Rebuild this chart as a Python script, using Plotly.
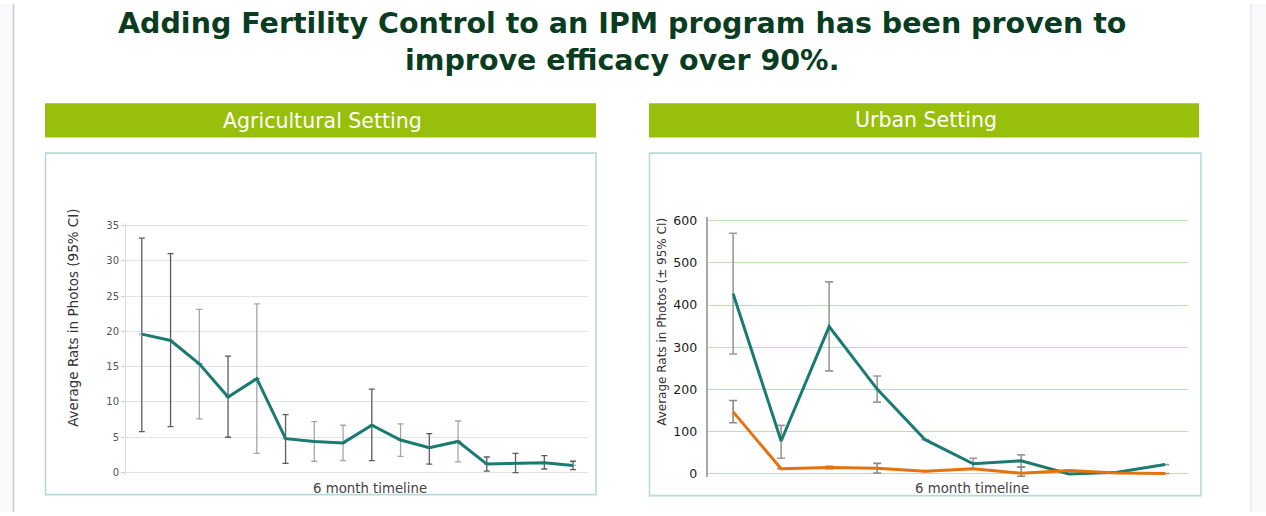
import plotly.graph_objects as go

W, H = 1266, 516

# ---------------- data ----------------
ag_x = list(range(1, 17))
ag_mean = [19.6, 18.7, 15.4, 10.7, 13.3, 4.8, 4.4, 4.2, 6.7, 4.6, 3.5, 4.4, 1.2, 1.3, 1.4, 1.0]
ag_upper = [33.2, 31.0, 23.1, 16.5, 23.9, 8.2, 7.2, 6.7, 11.8, 6.9, 5.5, 7.3, 2.2, 2.7, 2.4, 1.6]
ag_lower = [5.8, 6.5, 7.6, 5.0, 2.7, 1.3, 1.6, 1.7, 1.7, 2.3, 1.2, 1.5, 0.2, 0.0, 0.5, 0.4]
ag_dark_bar = [1, 1, 0, 1, 0, 1, 0, 0, 1, 0, 1, 0, 1, 1, 1, 1]
ag_yticks = [0, 5, 10, 15, 20, 25, 30, 35]

ur_x = list(range(1, 11))
ur_teal = [427, 78, 349, 201, 81, 24, 31, 0, 4, 22]
ur_teal_upper = [570, 115, 455, 232, None, 37, 45, None, None, None]
ur_teal_lower = [284, 37, 244, 170, None, 12, 16, None, None, None]
ur_orange = [147, 12, 15, 13.5, 6, 12, 1.5, 8, 2, 1]
ur_orange_upper = [174, None, 18, 25, None, None, 16, None, None, None]
ur_orange_lower = [121, None, 12, 2, None, None, -6, None, None, None]
ur_yticks = [0, 100, 200, 300, 400, 500, 600]

TEAL = "#1b7b72"
ORANGE = "#e2730f"
GREEN_HDR = "#97bf0b"
TITLE_C = "#0a3d1f"

# vertical mapping correction observed in rendering
Y_OFF, Y_SC = 5.6, 0.98


def px(x):
    return x / W


def py(y):
    return 1 - ((y - Y_OFF) / Y_SC) / H


def err(mean, up, lo):
    plus = [(u - m) if u is not None else 0 for m, u in zip(mean, up)]
    minus = [(m - l) if l is not None else 0 for m, l in zip(mean, lo)]
    return plus, minus


fig = go.Figure()

# ----- agricultural -----
ag_plus, ag_minus = err(ag_mean, ag_upper, ag_lower)
for flag, col in [(1, "#5c5c5c"), (0, "#a6a6a6")]:
    fig.add_trace(go.Scatter(
        x=ag_x, y=ag_mean, mode="markers", xaxis="x", yaxis="y",
        marker=dict(size=1, color="rgba(0,0,0,0)"),
        error_y=dict(type="data", symmetric=False,
                     array=[p if d == flag else 0 for p, d in zip(ag_plus, ag_dark_bar)],
                     arrayminus=[m if d == flag else 0 for m, d in zip(ag_minus, ag_dark_bar)],
                     color=col, thickness=1.3, width=3),
        showlegend=False, hoverinfo="skip"))
fig.add_trace(go.Scatter(x=ag_x, y=ag_mean, mode="lines", xaxis="x", yaxis="y",
                         line=dict(color=TEAL, width=3), showlegend=False))

# ----- urban -----
t_plus, t_minus = err(ur_teal, ur_teal_upper, ur_teal_lower)
o_plus, o_minus = err(ur_orange, ur_orange_upper, ur_orange_lower)
fig.add_trace(go.Scatter(
    x=ur_x, y=ur_teal, mode="markers", xaxis="x2", yaxis="y2",
    marker=dict(size=1, color="rgba(0,0,0,0)"),
    error_y=dict(type="data", symmetric=False, array=t_plus, arrayminus=t_minus,
                 color="#9a9a9a", thickness=1.6, width=4),
    showlegend=False, hoverinfo="skip"))
fig.add_trace(go.Scatter(
    x=ur_x, y=ur_orange, mode="markers", xaxis="x2", yaxis="y2",
    marker=dict(size=1, color="rgba(0,0,0,0)"),
    error_y=dict(type="data", symmetric=False, array=o_plus, arrayminus=o_minus,
                 color="#8a8a8a", thickness=1.6, width=4),
    showlegend=False, hoverinfo="skip"))
fig.add_trace(go.Scatter(x=ur_x, y=ur_teal, mode="lines", xaxis="x2", yaxis="y2",
                         line=dict(color=TEAL, width=3), showlegend=False))
fig.add_trace(go.Scatter(x=ur_x, y=ur_orange, mode="lines", xaxis="x2", yaxis="y2",
                         line=dict(color=ORANGE, width=3), showlegend=False))

# ---------------- axes ----------------
fig.update_layout(
    xaxis=dict(domain=[px(126), px(588)], range=[0.45, 16.52], showticklabels=False,
               showgrid=False, zeroline=False, showline=False, ticks="", anchor="y"),
    yaxis=dict(domain=[py(474.8), py(223.2)], range=[-0.4, 35.4], tickvals=ag_yticks,
               anchor="x",
               showgrid=True, gridcolor="#e3e3e3", gridwidth=1.2, zeroline=False,
               showline=True, linecolor="#dcdcdc", linewidth=1, ticks="outside",
               ticklen=4, tickcolor="#cfcfcf",
               tickfont=dict(family="DejaVu Sans", size=10, color="#555555")),
    xaxis2=dict(domain=[px(707.7), px(1187.7)], range=[0.47, 10.47], showticklabels=False,
                showgrid=False, zeroline=False, showline=False, ticks="", anchor="y2"),
    yaxis2=dict(domain=[py(476.7), py(217.9)], range=[-8, 608], tickvals=ur_yticks,
                anchor="x2",
                showgrid=True, gridcolor="#b9dfb2", gridwidth=1.3, zeroline=False,
                showline=True, linecolor="#a8a8a8", linewidth=2, ticks="",
                ticklabelstandoff=6,
                tickfont=dict(family="DejaVu Sans", size=12.5, color="#1a1a1a")),
)

shapes = []
# page side strips
shapes.append(dict(type="rect", xref="paper", yref="paper", x0=0, x1=px(13.5), y0=0, y1=1,
                   fillcolor="#f8f9fb", line=dict(width=0), layer="below"))
shapes.append(dict(type="line", xref="paper", yref="paper", x0=px(13.5), x1=px(13.5), y0=0, y1=1,
                   line=dict(color="#c9c9c9", width=1.5)))
shapes.append(dict(type="rect", xref="paper", yref="paper", x0=px(1251), x1=1, y0=0, y1=1,
                   fillcolor="#f8f9fb", line=dict(width=0), layer="below"))
shapes.append(dict(type="line", xref="paper", yref="paper", x0=px(1251), x1=px(1251), y0=0, y1=1,
                   line=dict(color="#e6e6e6", width=1.5)))
# header bars
for x0, x1 in [(45, 596), (649, 1199)]:
    shapes.append(dict(type="rect", xref="paper", yref="paper", x0=px(x0), x1=px(x1),
                       y0=py(138.5), y1=py(104.5), fillcolor=GREEN_HDR, line=dict(width=0)))
# card borders
for x0, x1, y1 in [(45.5, 596, 494), (649.5, 1201, 495)]:
    shapes.append(dict(type="rect", xref="paper", yref="paper", x0=px(x0), x1=px(x1),
                       y0=py(y1), y1=py(154), line=dict(color="#b7dada", width=1.6),
                       fillcolor="rgba(0,0,0,0)", layer="below"))

annotations = [
    dict(text="<b>Adding Fertility Control to an IPM program has been proven to</b>",
         x=px(622), y=py(25), xref="paper", yref="paper", showarrow=False,
         font=dict(family="DejaVu Sans", size=28.5, color=TITLE_C), xanchor="center", yanchor="middle"),
    dict(text="<b>improve efficacy over 90%.</b>",
         x=px(622), y=py(62), xref="paper", yref="paper", showarrow=False,
         font=dict(family="DejaVu Sans", size=28.5, color=TITLE_C), xanchor="center", yanchor="middle"),
    dict(text="Agricultural Setting", x=px(322), y=py(122), xref="paper", yref="paper",
         showarrow=False, font=dict(family="DejaVu Sans", size=20.5, color="white"),
         xanchor="center", yanchor="middle"),
    dict(text="Urban Setting", x=px(926), y=py(121), xref="paper", yref="paper",
         showarrow=False, font=dict(family="DejaVu Sans", size=20.5, color="white"),
         xanchor="center", yanchor="middle"),
    dict(text="Average Rats in Photos (95% CI)", x=px(73), y=py(318), xref="paper", yref="paper",
         showarrow=False, textangle=-90, font=dict(family="DejaVu Sans", size=13.5, color="#333333"),
         xanchor="center", yanchor="middle"),
    dict(text="Average Rats in Photos (± 95% CI)", x=px(662), y=py(322), xref="paper", yref="paper",
         showarrow=False, textangle=-90, font=dict(family="DejaVu Sans", size=12, color="#333333"),
         xanchor="center", yanchor="middle"),
    dict(text="6 month timeline", x=px(369.5), y=py(487.5), xref="paper", yref="paper",
         showarrow=False, font=dict(family="DejaVu Sans", size=13.3, color="#444444"),
         xanchor="center", yanchor="middle"),
    dict(text="6 month timeline", x=px(972), y=py(488), xref="paper", yref="paper",
         showarrow=False, font=dict(family="DejaVu Sans", size=13.3, color="#444444"),
         xanchor="center", yanchor="middle"),
]

fig.update_layout(
    width=W, height=H, margin=dict(l=0, r=0, t=0, b=0),
    paper_bgcolor="white", plot_bgcolor="white",
    shapes=shapes, annotations=annotations, showlegend=False,
)

fig.write_html("out.html", config={"displayModeBar": False})
